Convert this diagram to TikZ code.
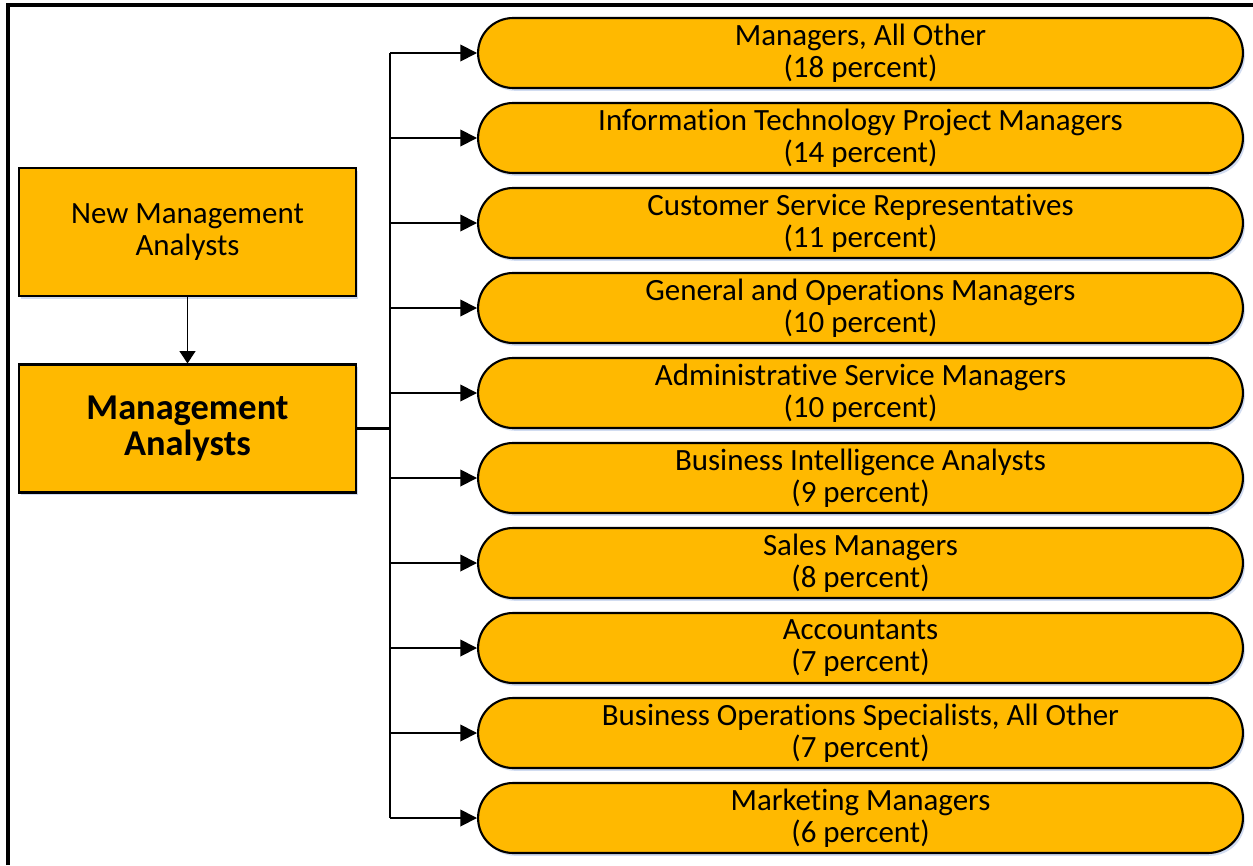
\documentclass[tikz,border=0pt]{standalone}
\usepackage{fontspec}
\setmainfont{Carlito}[Ligatures=NoCommon]
\usetikzlibrary{arrows.meta,shadows}
\definecolor{boxgold}{RGB}{255,185,0}
\definecolor{boxshade}{RGB}{190,205,235}
\tikzset{
  shade box/.style={drop shadow={shadow xshift=1.2pt, shadow yshift=-1.6pt, fill=boxshade, opacity=0.7}},
  jobbox/.style={draw=black, line width=1.2pt, fill=boxgold, shade box,
    minimum width=6.74cm, minimum height=2.56cm, align=center, inner sep=0pt},
  pathpill/.style={draw=black, line width=1.2pt, fill=boxgold, shade box,
    rounded corners=0.7cm, minimum width=15.3cm, minimum height=1.4cm,
    align=center, inner sep=0pt, font=\fontsize{17.6}{18.2}\selectfont},
  arr/.style={line width=1pt, -{Triangle[length=9.5pt,width=9.5pt]}},
}
\begin{document}
\begin{tikzpicture}[x=0.02cm, y=-0.02cm]
% one unit is one pixel of the page, y runs downwards
\useasboundingbox (0,0) rectangle (1253,865);
% Frame (top and left edges only)
\draw[line width=1.9pt] (8,865) -- (8,5) -- (1253,5);
% Source and main occupation
\node[jobbox, font=\fontsize{17.6}{17.8}\selectfont] (newma) at (187.5,232) {New Management\\Analysts};
\node[jobbox, font=\fontsize{20.7}{20.6}\selectfont\bfseries] (ma) at (187.5,428.5) {Management\\Analysts};
% Occupations moved to
\node[pathpill] (p1) at (860.5,53) {Managers, All Other\\(18 percent)};
\node[pathpill] (p2) at (860.5,138) {Information Technology Project Managers\\(14 percent)};
\node[pathpill] (p3) at (860.5,223) {Customer Service Representatives\\(11 percent)};
\node[pathpill] (p4) at (860.5,308) {General and Operations Managers\\(10 percent)};
\node[pathpill] (p5) at (860.5,393) {Administrative Service Managers\\(10 percent)};
\node[pathpill] (p6) at (860.5,478) {Business Intelligence Analysts\\(9 percent)};
\node[pathpill] (p7) at (860.5,563) {Sales Managers\\(8 percent)};
\node[pathpill] (p8) at (860.5,648) {Accountants\\(7 percent)};
\node[pathpill] (p9) at (860.5,733) {Business Operations Specialists, All Other\\(7 percent)};
\node[pathpill] (p10) at (860.5,818) {Marketing Managers\\(6 percent)};
% Connectors
\coordinate (bus) at (390,428.5);
\draw[line width=0.8pt, -{Triangle[length=7pt,width=9pt]}] (newma) -- (ma);
\draw[line width=1.6pt] (ma.east) -- (bus);
\draw[line width=1.2pt] (bus |- p1.west) -- (bus |- p10.west);
\draw[arr] (bus |- p1.west) -- (p1.west);
\draw[arr] (bus |- p2.west) -- (p2.west);
\draw[arr] (bus |- p3.west) -- (p3.west);
\draw[arr] (bus |- p4.west) -- (p4.west);
\draw[arr] (bus |- p5.west) -- (p5.west);
\draw[arr] (bus |- p6.west) -- (p6.west);
\draw[arr] (bus |- p7.west) -- (p7.west);
\draw[arr] (bus |- p8.west) -- (p8.west);
\draw[arr] (bus |- p9.west) -- (p9.west);
\draw[arr] (bus |- p10.west) -- (p10.west);
\end{tikzpicture}
\end{document}
